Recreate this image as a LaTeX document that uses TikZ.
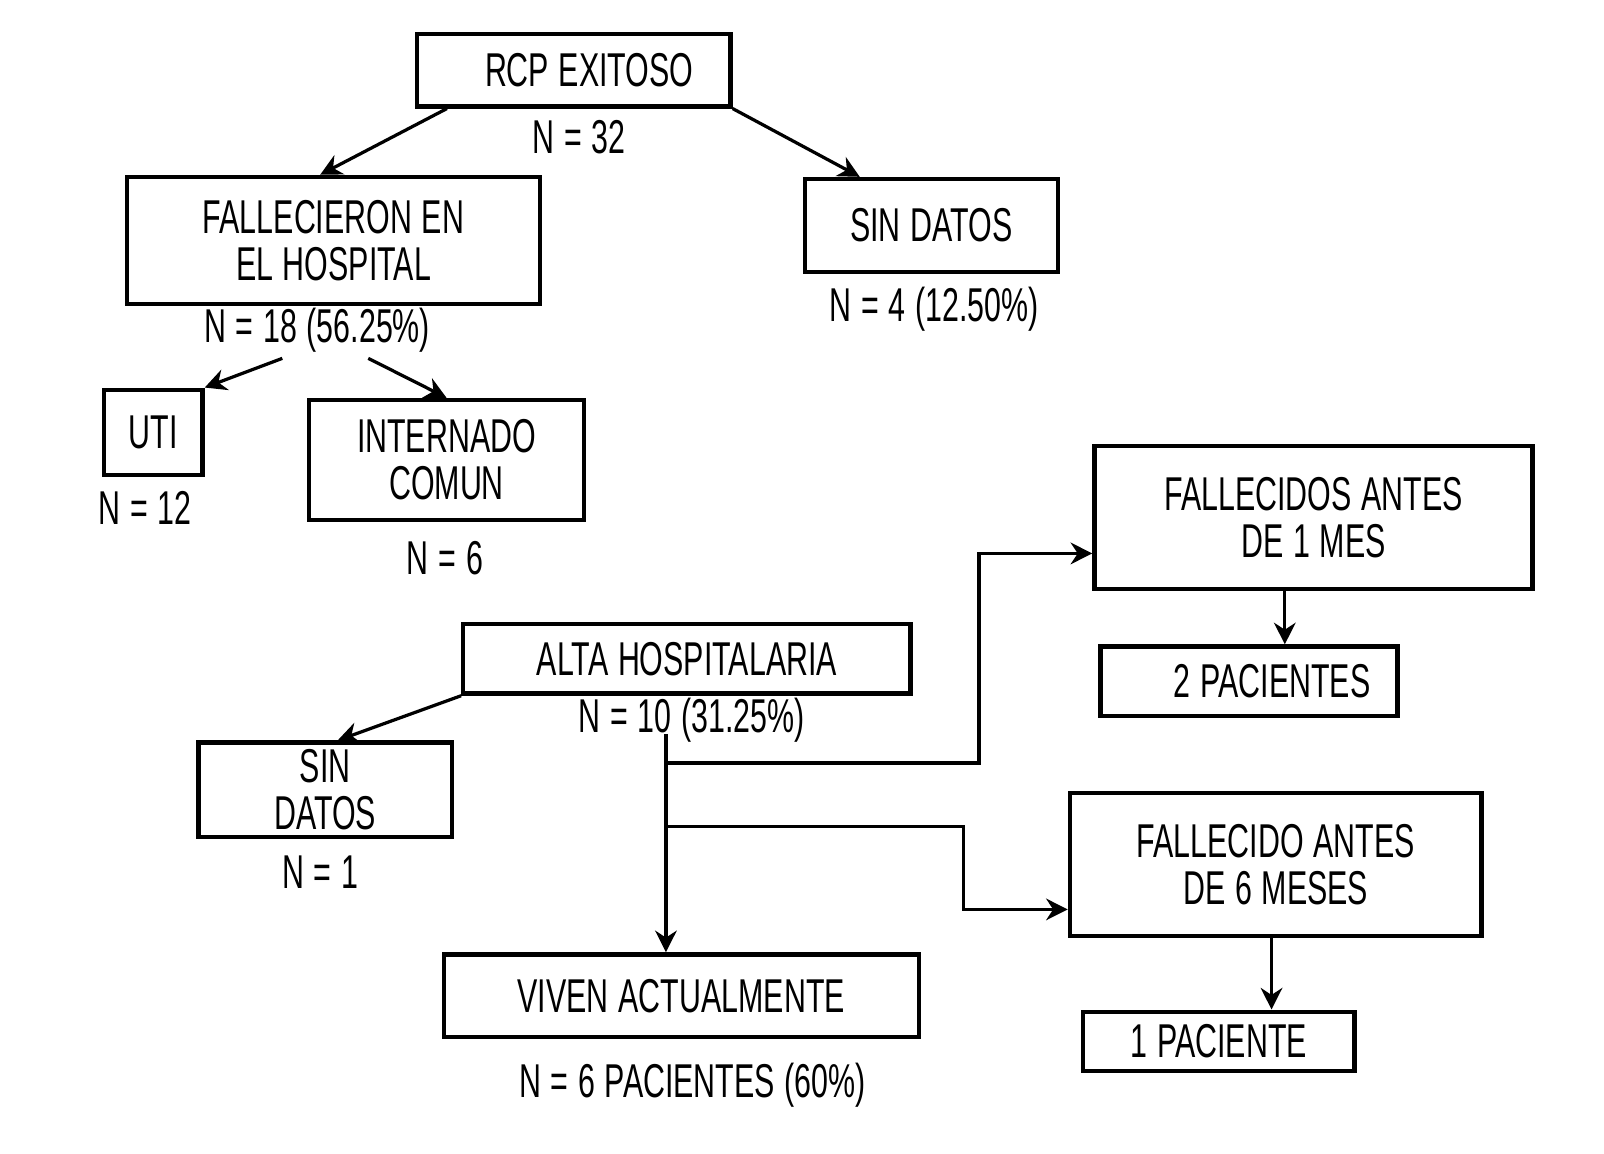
\documentclass[tikz,border=0pt]{standalone}
\usepackage{fontspec}
\setmainfont[FakeStretch=0.64,WordSpace=1.15]{Liberation Sans}
\usetikzlibrary{arrows.meta}

\tikzset{
  box/.style={draw, line width=1.2pt, inner sep=0pt, align=center,
    font=\fontsize{13.2}{13}\selectfont},
  cnt/.style={inner sep=0pt, font=\fontsize{13.2}{13}\selectfont},
  arr/.style={line width=0.9pt, -{Stealth[length=6pt,width=6pt]}}
}

\begin{document}
\begin{tikzpicture}[x=0.01cm, y=-0.01cm]
            \useasboundingbox (0,0) rectangle (1568,1128);
            % upper tree
            \node[box, minimum width=3.06cm, minimum height=0.71cm] (rcp) at (561,68.5) {\hspace{0.3cm}RCP EXITOSO};
            \node[cnt] (n32) at (566,134) {N = 32};
            \node[box, minimum width=4.04cm, minimum height=1.24cm] (fall) at (326,235) {FALLECIERON EN\\EL HOSPITAL};
            \node[cnt] (n18) at (310,323) {N = 18 (56.25\%)};
            \node[box, minimum width=2.47cm, minimum height=0.91cm] (sd1) at (910.5,220.5) {SIN DATOS};
            \node[cnt] (n4) at (913,302) {N = 4 (12.50\%)};
            \node[box, minimum width=0.96cm, minimum height=0.83cm] (uti) at (150,422.5) {UTI};
            \node[cnt] (n12) at (142,497) {N = 12};
            \node[box, minimum width=2.69cm, minimum height=1.17cm] (intern) at (436.5,449.5) {INTERNADO\\COMUN};
            \node[cnt] (n6) at (435,546) {N = 6};
            \draw[arr] ([xshift=-1.24cm]rcp.south) -- ([xshift=-0.13cm]fall.north);
            \draw[arr] (rcp.south east) -- ([xshift=-0.7cm]sd1.north);
            \draw[arr] ([xshift=-0.34cm,yshift=-0.05cm]n18.south) -- (uti.north east);
            \draw[arr] ([xshift=0.5cm,yshift=-0.05cm]n18.south) -- (intern.north);
            % lower tree
            \node[box, minimum width=4.37cm, minimum height=0.68cm] (alta) at (671.5,644) {ALTA HOSPITALARIA};
            \node[cnt] (n10) at (676,704) {N = 10 (31.25\%)};
            \node[box, minimum width=2.48cm, minimum height=0.92cm] (sd2) at (318,772) {SIN\\DATOS};
            \node[cnt] (n1) at (313,853) {N = 1};
            \node[box, minimum width=4.64cm, minimum height=0.81cm] (viven) at (666,973.5) {VIVEN ACTUALMENTE};
            \node[cnt] (n6p) at (677,1061) {N = 6 PACIENTES (60\%)};
            \node[box, minimum width=4.28cm, minimum height=1.40cm] (f1m) at (1284,506) {FALLECIDOS ANTES\\DE 1 MES};
            \node[box, minimum width=2.90cm, minimum height=0.68cm] (p2) at (1221,666) {\hspace{0.45cm}2 PACIENTES};
            \node[box, minimum width=4.02cm, minimum height=1.40cm] (f6m) at (1247,845) {FALLECIDO ANTES\\DE 6 MESES};
            \node[box, minimum width=2.65cm, minimum height=0.58cm] (p1) at (1191.5,1018) {1 PACIENTE};
            \coordinate (trunk) at (651,718);
            \draw[arr] (alta.south west) -- ([xshift=0.12cm]sd2.north);
            \draw[arr] (trunk) -- (trunk |- viven.north);
            \draw[arr] (651,746) -- (957,746) |- ([yshift=-0.35cm]f1m.west);
            \draw[arr] (651,808) -- (942,808) |- ([yshift=-0.44cm]f6m.west);
            \draw[arr] ([xshift=-0.28cm]f1m.south) -- ([xshift=-0.28cm]f1m.south |- p2.north);
            \draw[arr] ([xshift=-0.04cm]f6m.south) -- ([xshift=-0.04cm]f6m.south |- p1.north);
        \end{tikzpicture}
\end{document}
